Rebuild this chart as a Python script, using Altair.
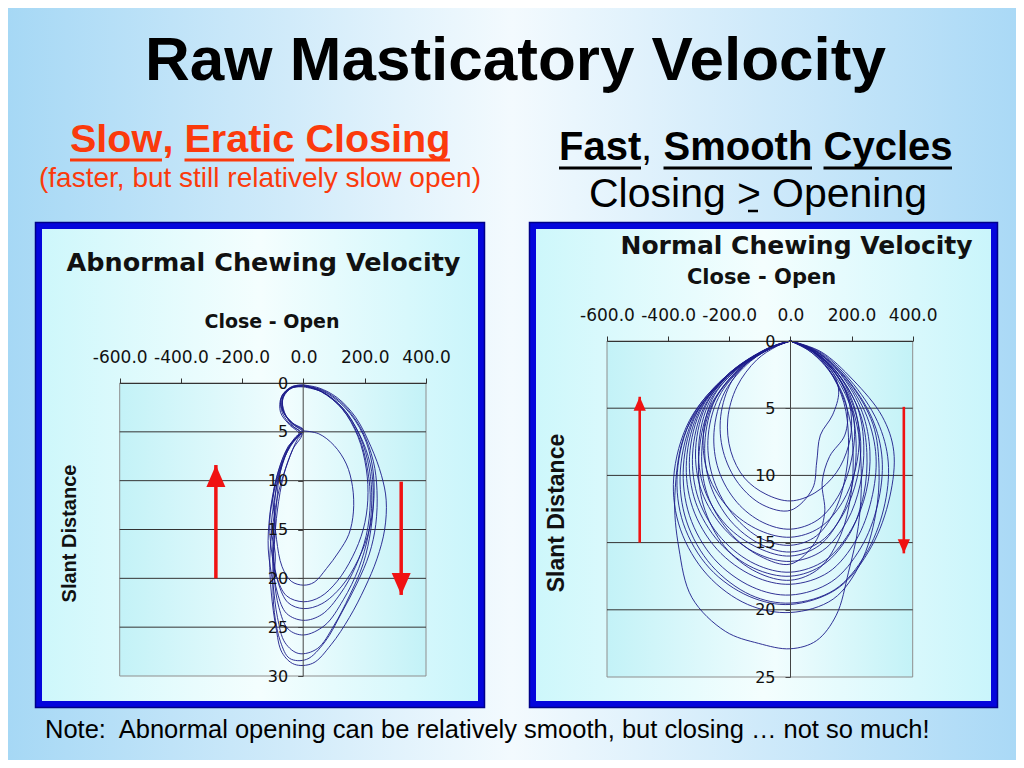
import altair as alt
import pandas as pd

W, H = 1008, 752

# ---------------- texts ----------------
TITLE = "Raw Masticatory Velocity"
LEFT_HEAD = ["Slow", ",", "Eratic", "Closing"]
LEFT_SUB = "(faster, but still relatively slow open)"
RIGHT_HEAD = ["Fast", ",", "Smooth", "Cycles"]
RIGHT_SUB = ["Closing", ">", "Opening"]
NOTE = "Note:\u00a0 Abnormal opening can be relatively smooth, but closing \u2026 not so much!"
LEFT_CHART_TITLE = "Abnormal Chewing Velocity"
RIGHT_CHART_TITLE = "Normal Chewing Velocity"
X_TITLE = "Close - Open"
Y_TITLE = "Slant Distance"

X_TICKS = [-600, -400, -200, 0, 200, 400]
LEFT_Y_TICKS = [0, 5, 10, 15, 20, 25, 30]
RIGHT_Y_TICKS = [0, 5, 10, 15, 20, 25]
LEFT_GRID = [5, 10, 15, 20, 25]
RIGHT_GRID = [5, 10, 15, 20]

# ---------------- abnormal (left) cycles: (close-open velocity, slant distance) ----------------
LA1 = [(0,0.2),(50,0.5),(110,1.5),(170,3.5),(220,6.5),(255,9.5),(270,12.0),(265,15.0),(240,18.0),(200,21.0),(150,24.0),(90,26.8),(30,28.7),(-30,28.8),(-70,27.6),(-90,25.0),(-105,21.5),(-110,18.0),(-100,14.5),(-80,11.0),(-50,8.0),(-20,5.8),(0,5.0),(-30,4.3),(-60,3.3),(-75,2.0),(-60,0.9),(-30,0.3),(0,0.2)]
LA2 = [(0,0.3),(60,0.7),(130,2.2),(190,4.8),(228,8.0),(240,11.0),(236,14.5),(215,17.5),(175,20.5),(125,23.5),(70,26.5),(10,28.3),(-45,28.2),(-75,26.5),(-95,23.5),(-100,20.0),(-95,16.5),(-85,13.0),(-65,9.5),(-35,6.8),(-5,5.2),(-35,4.4),(-62,3.0),(-68,1.6),(-45,0.6),(0,0.3)]
LA3 = [(0,0.3),(55,0.8),(125,2.5),(182,5.2),(218,8.3),(228,11.5),(220,15.0),(195,18.5),(150,21.8),(100,24.8),(45,27.2),(-15,27.7),(-60,26.6),(-85,24.0),(-100,20.5),(-115,17.0),(-110,13.5),(-90,10.0),(-60,7.2),(-25,5.5),(0,4.9),(-40,4.0),(-70,2.6),(-62,1.1),(-30,0.4),(0,0.3)]
LA4 = [(0,0.4),(60,0.9),(130,2.6),(185,5.5),(215,8.8),(223,12.0),(212,15.5),(180,19.0),(130,22.2),(70,24.8),(0,25.8),(-50,25.2),(-80,23.0),(-95,20.0),(-92,17.5),(-105,15.0),(-95,12.0),(-75,9.0),(-45,6.5),(-10,5.1),(-45,4.2),(-72,2.8),(-70,1.3),(-40,0.5),(0,0.4)]
LA5 = [(0,0.3),(58,0.9),(128,2.7),(182,5.6),(210,9.0),(218,12.2),(205,15.6),(170,18.8),(120,21.6),(60,23.7),(0,24.3),(-55,23.6),(-85,21.5),(-100,18.5),(-98,15.5),(-88,12.5),(-80,9.8),(-55,7.0),(-20,5.4),(0,4.8),(-35,4.1),(-65,2.9),(-66,1.5),(-38,0.5),(0,0.3)]
LA6 = [(0,0.2),(62,0.8),(135,2.5),(195,5.3),(225,8.5),(230,11.8),(215,15.0),(180,18.0),(125,20.8),(60,22.6),(0,23.1),(-50,22.5),(-82,20.5),(-98,17.5),(-92,14.5),(-100,11.8),(-82,9.0),(-50,6.5),(-15,5.2),(-45,4.3),(-75,3.0),(-72,1.4),(-40,0.4),(0,0.2)]
LA7 = [(0,0.3),(55,0.8),(125,2.6),(178,5.5),(205,8.8),(210,12.0),(195,15.0),(160,17.8),(110,20.3),(55,21.9),(0,22.4),(-55,21.8),(-88,19.8),(-105,17.0),(-110,14.0),(-95,11.0),(-70,8.2),(-35,6.0),(-5,5.0),(-40,4.1),(-68,2.7),(-65,1.2),(-35,0.4),(0,0.3)]
LA8 = [(0,4.9),(50,5.2),(100,6.4),(140,8.3),(160,10.6),(163,13.2),(148,15.5),(115,17.3),(75,19.0),(35,20.4),(0,20.7),(-40,20.3),(-70,18.8),(-88,16.0),(-95,13.0),(-85,10.0),(-60,7.5),(-25,5.7),(0,4.9)]
LEFT_CYCLES = [LA1, LA2, LA3, LA4, LA5, LA6, LA7, LA8]

# ---------------- normal (right) cycles ----------------
RN1 = [(0,0),(60,0.6),(125,1.8),(178,3.6),(200,5.8),(190,7.8),(150,9.8),(80,11.3),(0,11.9),(-80,11.4),(-150,10.2),(-195,8.2),(-205,5.8),(-175,3.4),(-110,1.4),(-45,0.4),(0,0)]
RN2 = [(0,0),(65,0.6),(135,2.0),(190,4.2),(210,6.5),(198,9.0),(160,11.4),(90,13.3),(0,14.0),(-90,13.5),(-175,12.0),(-235,9.6),(-250,6.8),(-215,3.8),(-130,1.5),(-50,0.4),(0,0)]
RN3 = [(0,0),(60,0.7),(128,2.2),(175,4.6),(190,7.2),(182,9.8),(150,12.4),(85,14.5),(0,15.2),(-95,14.7),(-185,13.0),(-250,10.4),(-270,7.4),(-235,4.2),(-145,1.7),(-55,0.4),(0,0)]
RN4 = [(0,0),(70,0.7),(145,2.3),(205,4.8),(230,7.5),(218,10.2),(175,12.8),(100,14.9),(0,15.7),(-100,15.1),(-195,13.4),(-262,10.7),(-280,7.6),(-245,4.3),(-155,1.8),(-60,0.5),(0,0)]
RN5 = [(0,0),(68,0.7),(140,2.4),(198,5.0),(215,7.6),(205,10.4),(165,13.1),(95,15.2),(0,16.0),(-105,15.4),(-210,13.7),(-282,11.0),(-300,7.8),(-262,4.4),(-165,1.9),(-62,0.5),(0,0)]
RN6 = [(0,0),(75,0.7),(155,2.4),(220,5.0),(240,7.8),(228,10.7),(185,13.4),(105,15.6),(0,16.4),(-110,15.8),(-215,14.0),(-290,11.2),(-310,8.0),(-270,4.5),(-170,1.9),(-64,0.5),(0,0)]
RN7 = [(0,0),(72,0.8),(140,2.6),(185,5.0),(178,7.0),(128,8.6),(104,10.5),(112,12.8),(80,15.0),(0,16.6),(-100,16.0),(-200,14.2),(-272,11.4),(-290,8.2),(-255,4.7),(-160,2.0),(-60,0.5),(0,0)]
RN8 = [(0,0),(80,0.7),(165,2.5),(235,5.3),(260,8.2),(248,11.2),(200,14.0),(115,16.3),(0,17.2),(-115,16.6),(-225,14.7),(-300,11.8),(-320,8.4),(-280,4.8),(-175,2.0),(-66,0.5),(0,0)]
RN9 = [(0,0),(78,0.8),(160,2.6),(228,5.4),(250,8.3),(240,11.4),(195,14.3),(110,16.6),(0,17.5),(-120,16.9),(-232,15.0),(-310,12.0),(-330,8.6),(-288,4.9),(-180,2.1),(-68,0.5),(0,0)]
RN10 = [(0,0),(85,0.8),(175,2.7),(250,5.6),(280,8.6),(265,11.8),(215,14.8),(125,17.2),(0,18.1),(-120,17.5),(-240,15.5),(-320,12.4),(-340,8.9),(-296,5.1),(-185,2.2),(-70,0.6),(0,0)]
RN11 = [(0,0),(90,0.8),(185,2.8),(268,5.8),(300,8.8),(285,12.2),(230,15.4),(135,17.9),(0,18.9),(-125,18.3),(-250,16.2),(-330,13.0),(-350,9.3),(-305,5.3),(-190,2.3),(-72,0.6),(0,0)]
RN12 = [(0,0),(95,0.8),(195,2.9),(285,6.0),(320,9.0),(305,12.5),(245,15.9),(145,18.5),(0,19.5),(-130,18.9),(-258,16.7),(-340,13.4),(-360,9.6),(-312,5.5),(-195,2.4),(-74,0.6),(0,0)]
RN13 = [(0,0),(100,0.8),(205,2.9),(300,5.6),(338,8.2),(325,11.6),(265,15.3),(155,18.4),(0,19.6),(-135,19.0),(-265,16.9),(-350,13.6),(-370,9.8),(-320,5.6),(-200,2.4),(-76,0.6),(0,0)]
RN14 = [(0,0),(92,0.9),(190,3.0),(270,6.2),(290,9.5),(278,13.0),(230,16.5),(140,19.2),(0,20.2),(-140,19.6),(-272,17.4),(-360,14.0),(-382,10.2),(-330,5.9),(-205,2.5),(-78,0.6),(0,0)]
RN15 = [(0,0),(78,0.8),(158,2.8),(215,6.0),(232,10.0),(222,13.8),(190,17.2),(150,20.4),(85,22.3),(0,22.9),(-104,22.5),(-213,21.6),(-322,19.1),(-365,15.4),(-378,11.5),(-340,6.6),(-210,2.6),(-80,0.6),(0,0)]
RN16 = [(0,0),(72,0.8),(140,2.4),(158,3.8),(138,5.5),(98,7.0),(86,9.0),(72,11.0),(0,12.6),(-90,12.2),(-170,10.6),(-220,8.2),(-228,5.6),(-192,3.0),(-120,1.2),(-48,0.3),(0,0)]
RN17 = [(0,0),(70,0.7),(148,2.2),(205,4.6),(225,7.0),(212,9.6),(170,12.0),(95,13.9),(0,14.6),(-100,14.1),(-200,12.5),(-268,10.0),(-285,7.0),(-248,4.0),(-152,1.7),(-58,0.4),(0,0)]
RN18 = [(0,0),(66,0.8),(138,2.6),(190,5.4),(205,8.3),(198,11.4),(165,14.4),(95,16.9),(0,17.8),(-110,17.2),(-215,15.3),(-285,12.2),(-300,8.7),(-265,5.0),(-168,2.1),(-62,0.5),(0,0)]
RIGHT_CYCLES = [RN1, RN2, RN3, RN4, RN5, RN6, RN7, RN8, RN9, RN10, RN11, RN12, RN13, RN14, RN15, RN16, RN17, RN18]

# arrows: x, shaft start, tip
LEFT_ARROWS_X = [-286, 319]
LEFT_ARROWS_FROM = [20.0, 10.1]
LEFT_ARROWS_TIP = [8.4, 21.7]
RIGHT_ARROWS_X = [-493, 371]
RIGHT_ARROWS_FROM = [15.0, 4.9]
RIGHT_ARROWS_TIP = [4.15, 15.8]

# ---------------- styles ----------------
ORANGE = "#fb3a0c"
FRAME_BLUE = "#0505dc"
LINE_COLOR = "#1c1c8a"
ARROW_RED = "#f01212"
ONE = pd.DataFrame({"a": [0]})
LABEL_EXPR = "replace(format(datum.value, '.1f'), '\u2212', '-')"


def grad(stops):
    return alt.Gradient(gradient="linear", x1=0, x2=1, y1=0, y2=0,
                        stops=[alt.GradientStop(color=c, offset=o) for o, c in stops])


def txt(s, x, y, size, font="Liberation Sans", weight="normal", color="#000000",
        align="left", baseline="alphabetic", angle=0):
    kw = dict(font=font, fontSize=size, fontWeight=weight, color=color,
              align=align, baseline=baseline)
    if angle:
        kw["angle"] = angle
    return alt.Chart(pd.DataFrame({"t": [s]})).mark_text(**kw).encode(
        x=alt.value(x), y=alt.value(y), text="t:N")


def hrule(x1, x2, y, color, width):
    return alt.Chart(ONE).mark_rule(color=color, strokeWidth=width).encode(
        x=alt.value(x1), x2=alt.value(x2), y=alt.value(y))


def cycles_df(cycles):
    rows = []
    for k, cyc in enumerate(cycles):
        for i, (vx, vy) in enumerate(cyc):
            rows.append({"vel": vx, "dist": vy, "cycle": k, "i": i})
    return pd.DataFrame(rows)


def panel(cycles, x_range, y_max, y_range, y_ticks, grid_vals, zero_px,
          arr_x, arr_from, arr_tip, head, arrow_w):
    xs = alt.Scale(domain=[-600, 400], range=x_range, nice=False, zero=False)
    ys = alt.Scale(domain=[0, y_max], range=y_range, nice=False, zero=False)
    xaxis = alt.Axis(orient="top", offset=-y_range[0], values=X_TICKS, labelExpr=LABEL_EXPR,
                     tickSize=5, labelPadding=12, title=None, grid=False,
                     domainColor="#333333", tickColor="#333333", labelColor="#111111",
                     labelFont="DejaVu Sans", labelFontSize=17, labelFlush=False,
                     labelOverlap=False, zindex=1)
    yaxis = alt.Axis(orient="left", offset=-zero_px, values=y_ticks, tickSize=5,
                     labelPadding=10, title=None, grid=False,
                     domainColor="#444444", tickColor="#444444", labelColor="#111111",
                     labelFont="DejaVu Sans", labelFontSize=16, labelFlush=False,
                     labelOverlap=False, zindex=1)

    def X(f):
        return alt.X(f, type="quantitative", scale=xs, axis=xaxis)

    def Y(f):
        return alt.Y(f, type="quantitative", scale=ys, axis=yaxis)

    plot_bg = alt.Chart(pd.DataFrame({"x0": [-600], "x1": [400], "y0": [0], "y1": [y_max]})).mark_rect(
        fill=grad([(0, "#c3f2f7"), (0.55, "#f1fdfe"), (1, "#c3f2f7")]),
        stroke="#8e8e8e", strokeWidth=1).encode(x=X("x0"), x2="x1", y=Y("y0"), y2="y1")

    grid = alt.Chart(pd.DataFrame({"g": grid_vals, "x0": -600, "x1": 400})).mark_rule(
        color="#333333", strokeWidth=1).encode(x=X("x0"), x2="x1", y=Y("g"))

    lines = alt.Chart(cycles_df(cycles)).mark_line(
        color=LINE_COLOR, strokeWidth=0.9, interpolate="catmull-rom").encode(
        x=X("vel"), y=Y("dist"), detail="cycle:N", order="i:Q")

    adf = pd.DataFrame({"ax": arr_x, "af": arr_from, "at": arr_tip,
                        "dir": ["up", "down"]})
    shaft = alt.Chart(adf).mark_rule(color=ARROW_RED, strokeWidth=arrow_w).encode(
        x=X("ax"), y=Y("af"), y2="at")
    up_head = alt.Chart(adf).transform_filter("datum.dir == 'up'").mark_point(
        shape="M0,0L-1,2.3L1,2.3Z", filled=True, size=head, color=ARROW_RED, opacity=1).encode(
        x=X("ax"), y=Y("at"))
    down_head = alt.Chart(adf).transform_filter("datum.dir == 'down'").mark_point(
        shape="M0,0L-1,-2.3L1,-2.3Z", filled=True, size=head, color=ARROW_RED, opacity=1).encode(
        x=X("ax"), y=Y("at"))

    return alt.layer(plot_bg, grid, lines, shaft, up_head, down_head)


# ---------------- background & frames ----------------
bg = alt.Chart(ONE).mark_rect(
    fill=grad([(0, "#a6d8f5"), (0.5, "#f3fafe"), (1, "#aad9f6")])).encode(
    x=alt.value(0), x2=alt.value(W), y=alt.value(0), y2=alt.value(H))

frame_fill = grad([(0, "#cdf7fb"), (0.5, "#f4fefe"), (1, "#c9f5fb")])
left_frame = alt.Chart(ONE).mark_rect(fill=frame_fill, stroke=FRAME_BLUE, strokeWidth=7).encode(
    x=alt.value(30.5), x2=alt.value(473.5), y=alt.value(217.5), y2=alt.value(696.5))
right_frame = alt.Chart(ONE).mark_rect(fill=frame_fill, stroke=FRAME_BLUE, strokeWidth=7).encode(
    x=alt.value(524.5), x2=alt.value(986.5), y=alt.value(217.5), y2=alt.value(696.5))
left_edge = alt.Chart(ONE).mark_rect(fill="transparent", stroke="#00008a", strokeWidth=1.5).encode(
    x=alt.value(27.5), x2=alt.value(476.5), y=alt.value(214.5), y2=alt.value(699.5))
right_edge = alt.Chart(ONE).mark_rect(fill="transparent", stroke="#00008a", strokeWidth=1.5).encode(
    x=alt.value(521.5), x2=alt.value(989.5), y=alt.value(214.5), y2=alt.value(699.5))

# ---------------- slide texts ----------------
texts = [
    txt(TITLE, 507.5, 72, 62, weight="bold", align="center"),
    txt(LEFT_HEAD[0], 62, 144, 39.5, weight="bold", color=ORANGE),
    txt(LEFT_HEAD[1], 154.5, 144, 39.5, weight="bold", color=ORANGE),
    txt(LEFT_HEAD[2], 176.5, 144, 39.5, weight="bold", color=ORANGE),
    txt(LEFT_HEAD[3], 297.5, 144, 39.5, weight="bold", color=ORANGE),
    hrule(62, 154, 152, ORANGE, 3),
    hrule(176.5, 286, 152, ORANGE, 3),
    hrule(297.5, 442, 152, ORANGE, 3),
    txt(LEFT_SUB, 252, 179, 28, color=ORANGE, align="center"),
    txt(RIGHT_HEAD[0], 551, 152, 40, weight="bold"),
    txt(RIGHT_HEAD[1], 633, 152, 40),
    txt(RIGHT_HEAD[2], 655.5, 152, 40, weight="bold"),
    txt(RIGHT_HEAD[3], 815.5, 152, 40, weight="bold"),
    hrule(551, 633, 160, "#000000", 3),
    hrule(655.5, 804, 160, "#000000", 3),
    hrule(815.5, 944, 160, "#000000", 3),
    txt(RIGHT_SUB[0], 581, 199, 41),
    txt(RIGHT_SUB[1], 729, 199, 41),
    txt(RIGHT_SUB[2], 764, 199, 41),
    hrule(740, 750, 203, "#000000", 2.5),
    txt(NOTE, 37, 730, 25.5),
    txt(LEFT_CHART_TITLE, 255.5, 263, 25.5, font="DejaVu Sans", weight="bold", color="#111111", align="center"),
    txt(RIGHT_CHART_TITLE, 788.5, 246, 25, font="DejaVu Sans", weight="bold", color="#111111", align="center"),
    txt(X_TITLE, 264, 320, 19, font="DejaVu Sans", weight="bold", color="#111111", align="center"),
    txt(X_TITLE, 753.5, 276, 21, font="DejaVu Sans", weight="bold", color="#111111", align="center"),
    txt(Y_TITLE, 62, 525.5, 20, weight="bold", color="#111111", align="center", baseline="middle", angle=270),
    txt(Y_TITLE, 549, 505, 23, weight="bold", color="#111111", align="center", baseline="middle", angle=270),
]

left_panel = panel(LEFT_CYCLES, [111.7, 418], 30, [375, 668], LEFT_Y_TICKS, LEFT_GRID,
                   294.7, LEFT_ARROWS_X, LEFT_ARROWS_FROM, LEFT_ARROWS_TIP, 361, 3.5)
right_panel = panel(RIGHT_CYCLES, [599, 904.7], 25, [333, 669], RIGHT_Y_TICKS, RIGHT_GRID,
                    782, RIGHT_ARROWS_X, RIGHT_ARROWS_FROM, RIGHT_ARROWS_TIP, 150, 2.6)

chart = alt.layer(bg, left_frame, right_frame, left_edge, right_edge, left_panel, right_panel, *texts).resolve_scale(
    x="independent", y="independent").properties(
    width=W, height=H, padding=0, autosize=alt.AutoSizeParams(type="none")).configure_view(
    strokeWidth=0).configure(background="#ffffff")

chart.save("out.html", embed_options={"renderer": "svg", "actions": False})
